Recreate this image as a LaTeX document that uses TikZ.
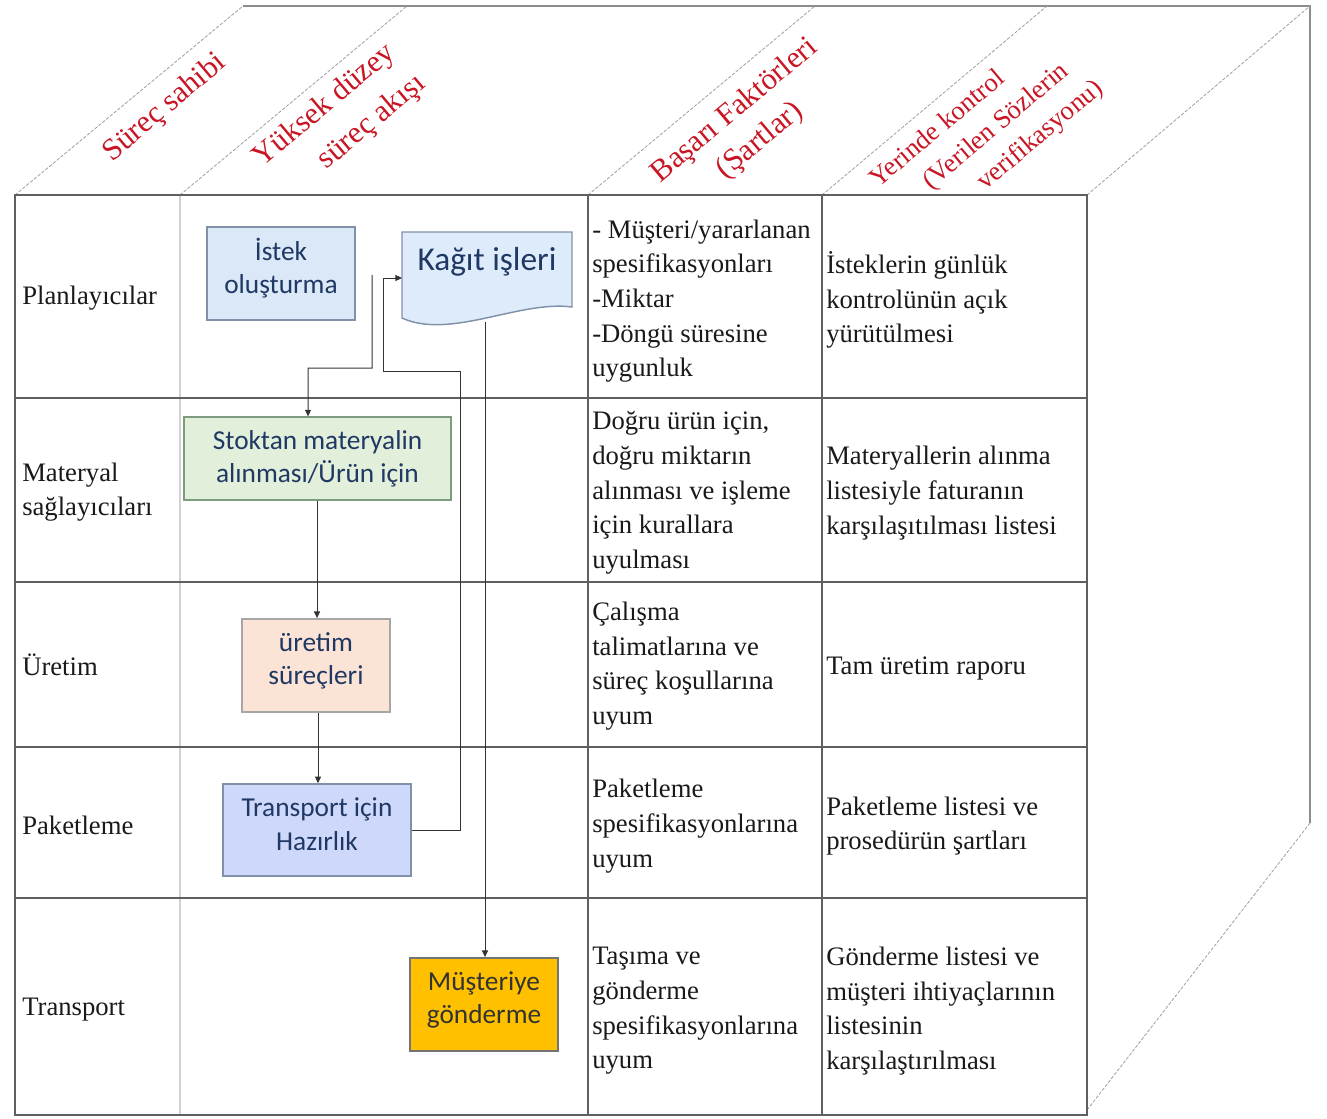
\documentclass[tikz,border=0pt]{standalone}
\usepackage{fontspec}
\setmainfont{Liberation Serif}
\newfontfamily\boxfont{Carlito}
\usetikzlibrary{arrows.meta}
\definecolor{gridc}{RGB}{95,95,95}
\definecolor{edgec}{RGB}{140,140,140}
\definecolor{hdrc}{RGB}{200,22,36}
\definecolor{txtc}{RGB}{25,25,25}
\definecolor{navy}{RGB}{31,56,100}
\definecolor{istekfill}{RGB}{218,232,247}
\definecolor{kagitfill}{RGB}{222,235,250}
\definecolor{stokfill}{RGB}{226,239,218}
\definecolor{uretimfill}{RGB}{251,228,213}
\definecolor{transfill}{RGB}{206,216,250}
\definecolor{musterifill}{RGB}{255,192,0}
\definecolor{boxedge}{RGB}{130,145,170}
\begin{document}
\begin{tikzpicture}[x=0.75pt,y=-0.75pt,
  gridline/.style={draw=gridc,line width=0.9pt},
  faintline/.style={draw=gray!35,line width=0.8pt},
  edgeline/.style={draw=edgec,line width=0.9pt},
  diagline/.style={draw=gray!75,line width=0.6pt,dash pattern=on 2.5pt off 1.2pt},
  hdr/.style={text=hdrc,rotate=40,inner sep=0pt,align=center,font=\fontsize{23}{27}\selectfont},
  cell/.style={text=txtc,anchor=west,align=left,inner sep=0pt,font=\fontsize{20}{26}\selectfont},
  fbox/.style={draw=boxedge,line width=1.1pt,align=center,text=navy,inner sep=2pt,
    font=\boxfont\fontsize{20.5}{25}\selectfont},
  conn/.style={draw=black!80,line width=0.75pt},
  arr/.style={conn,-{Triangle[length=5pt,width=4.5pt]}}
]
\useasboundingbox (0,0) rectangle (1327,1118);

% ---- box outline (top and right faces)
\draw[edgeline] (243,6) -- (1310,6) -- (1310,823);
\draw[diagline] (15,195) -- (243,6);
\draw[diagline] (180,195) -- (407,6);
\draw[diagline] (588,195) -- (815,6);
\draw[diagline] (822,195) -- (1047,6);
\draw[diagline] (1087,195) -- (1310,6);
\draw[diagline] (1087,1110) -- (1310,823);

% ---- front face grid
\draw[faintline] (180,195) -- (180,1115);
\draw[gridline] (15,195) rectangle (1087,1115);
\foreach \yy in {398,582,747,898} \draw[gridline] (15,\yy) -- (1087,\yy);
\foreach \xx in {588,822} \draw[gridline] (\xx,195) -- (\xx,1115);

% ---- header labels
\node[hdr] (h1) at (165,108) {Süreç sahibi};
\node[hdr,font=\fontsize{23}{32}\selectfont] (h2) at (338.7,122.3)
  {Yüksek düzey\\\hspace*{38.5pt}süreç akışı};
\node[hdr,font=\fontsize{23}{29.5}\selectfont] (h3) at (747.6,126)
  {Başarı Faktörleri\\(Şartlar)};
\node[hdr,font=\fontsize{20}{26.5}\selectfont] (h4) at (960.8,157)
  {Yerinde kontrol\\\hspace*{70pt}(Verilen Sözlerin\\\hspace*{112pt}verifikasyonu)};

% ---- row labels
\node[cell] (r1) at (22,298) {Planlayıcılar};
\node[cell] (r2) at (22,492) {Materyal\\sağlayıcıları};
\node[cell] (r3) at (22,665) {Üretim};
\node[cell] (r4) at (22,825) {Paketleme};
\node[cell] (r5) at (22,1010) {Transport};

% ---- column 3 and 4 texts
\node[cell] (c13) at (592,301) {- Müşteri/yararlanan\\spesifikasyonları\\-Miktar\\-Döngü süresine\\uygunluk};
\node[cell] (c14) at (826,300) {İsteklerin günlük\\kontrolünün açık\\yürütülmesi};
\node[cell] (c23) at (592,493) {Doğru ürün için,\\doğru miktarın\\alınması ve işleme\\için kurallara\\uyulması};
\node[cell] (c24) at (826,493) {Materyallerin alınma\\listesiyle faturanın\\karşılaşıtılması listesi};
\node[cell] (c33) at (592,666) {Çalışma\\talimatlarına ve\\süreç koşullarına\\uyum};
\node[cell] (c34) at (826,668) {Tam üretim raporu};
\node[cell] (c43) at (592,826) {Paketleme\\spesifikasyonlarına\\uyum};
\node[cell] (c44) at (826,826) {Paketleme listesi ve\\prosedürün şartları};
\node[cell] (c53) at (592,1011) {Taşıma ve\\gönderme\\spesifikasyonlarına\\uyum};
\node[cell] (c54) at (826,1011) {Gönderme listesi ve\\müşteri ihtiyaçlarının\\listesinin\\karşılaştırılması};

% ---- flow boxes
\node[fbox,fill=istekfill,minimum width=111pt,minimum height=70pt,text depth=11.5pt] (istek) at (281,273.5) {İstek\\oluşturma};
\draw[fill=kagitfill,draw=boxedge,line width=1.1pt]
  (402,232) -- (572,232) -- (572,307) .. controls (520,300) and (450,340) .. (402,318) -- cycle;
\node[text=navy,font=\boxfont\fontsize{25}{30}\selectfont,inner sep=0pt] (kagit) at (487,262) {Kağıt işleri};
\node[fbox,fill=stokfill,draw=gray!60!green!50!black!60,minimum width=200pt,minimum height=62pt] (stok) at (317.5,458.5) {Stoktan materyalin\\alınması/Ürün için};
\node[fbox,fill=uretimfill,draw=gray!70,minimum width=111pt,minimum height=70pt,text depth=10pt] (uretim) at (316,665.5) {üretim\\süreçleri};
\node[fbox,fill=transfill,minimum width=141pt,minimum height=69pt,text depth=9pt] (trans) at (317,830) {Transport için\\Hazırlık};
\node[fbox,fill=musterifill,draw=black!55,text=black!80,minimum width=111pt,minimum height=70pt,text depth=10.5pt] (musteri) at (484,1004.5) {Müşteriye\\gönderme};

% ---- connectors
\coordinate (istekout) at (372,275);
\coordinate (kin) at (402,278);
\coordinate (kout) at (485,322);
\draw[arr] (istekout) -- (372,368) -- (308,368) -- ([xshift=-7.1pt]stok.north);
\draw[arr] (trans.east) -- (460,830) -- (460,371) -- (383,371) -- (383,278) -- (kin);
\draw[arr] (kout) -- (kout |- musteri.north);
\draw[arr] (stok.south -| 317,0) -- (uretim.north -| 317,0);
\draw[arr] (uretim.south -| 318,0) -- (trans.north -| 318,0);
\end{tikzpicture}
\end{document}
